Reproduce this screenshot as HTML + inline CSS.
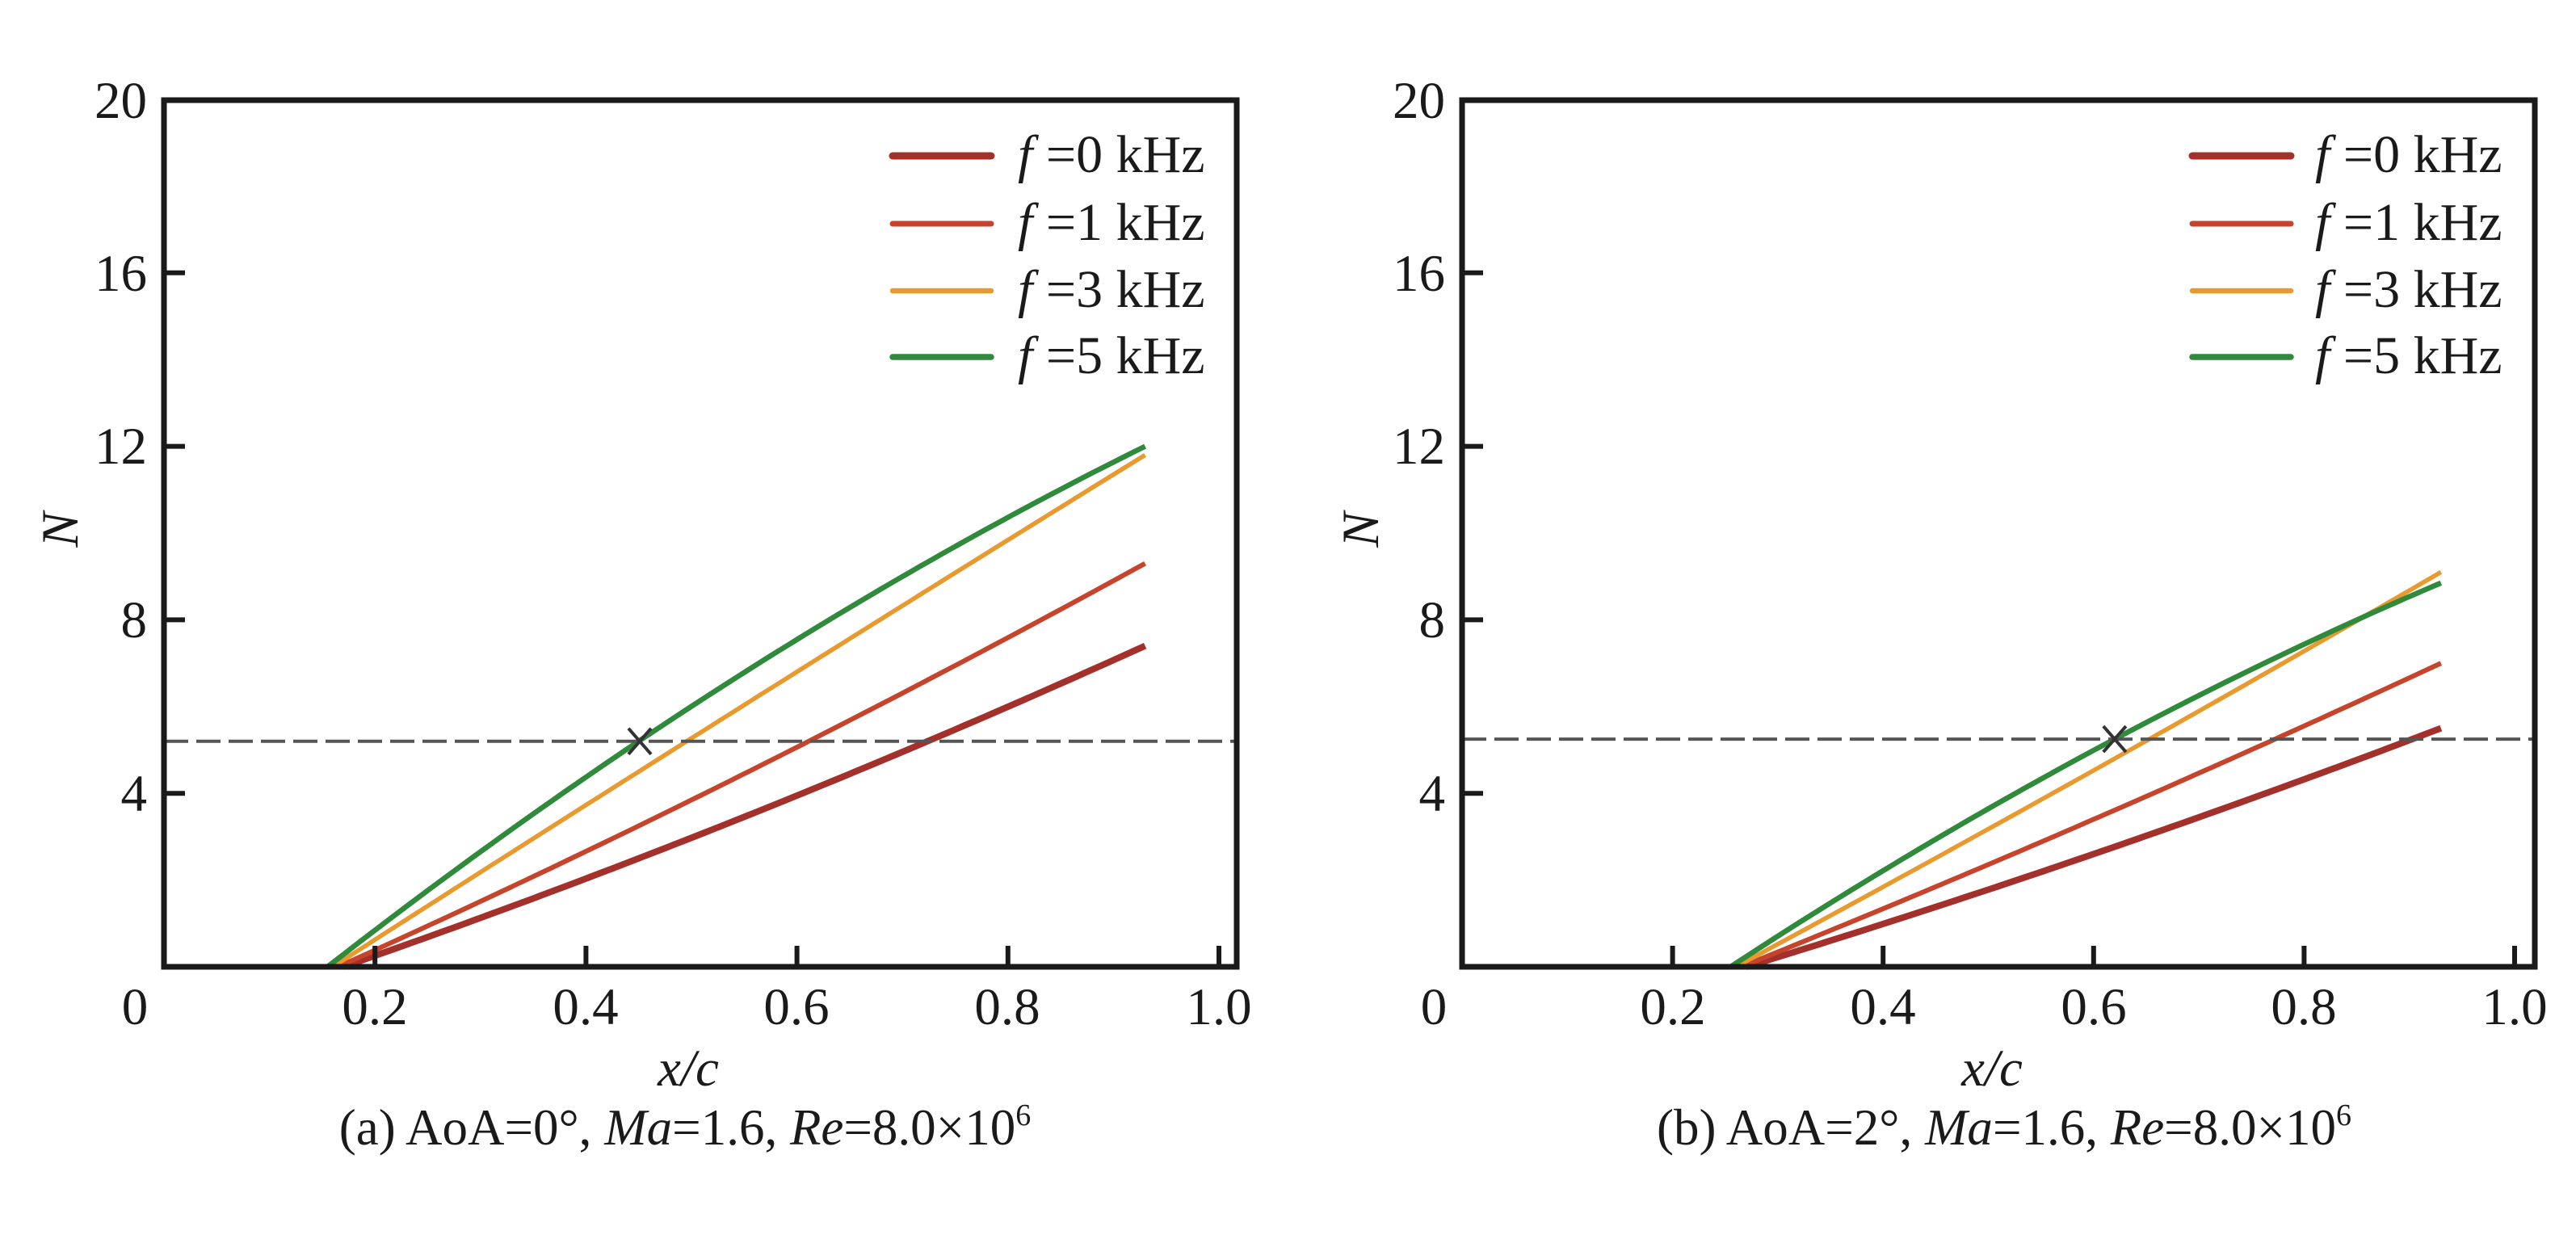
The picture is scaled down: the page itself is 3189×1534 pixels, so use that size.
<!DOCTYPE html>
<html><head><meta charset="utf-8"><style>
html,body{margin:0;padding:0;background:#fff;}
svg{display:block;}
text{font-family:"Liberation Serif",serif;fill:#1a1a1a;}
</style></head><body>
<svg id="s" width="3189" height="1534" viewBox="0 0 3189 1534" xmlns="http://www.w3.org/2000/svg">
<rect width="3189" height="1534" fill="#fff"/>
<g id="g"></g>
<g font-size="65">
<text x="182" y="146" text-anchor="end">20</text>
<text x="182" y="360" text-anchor="end">16</text>
<text x="182" y="574" text-anchor="end">12</text>
<text x="182" y="789" text-anchor="end">8</text>
<text x="182" y="1004" text-anchor="end">4</text>
<text x="167" y="1268" text-anchor="middle">0</text>
<text x="464" y="1268" text-anchor="middle">0.2</text>
<text x="725" y="1268" text-anchor="middle">0.4</text>
<text x="986" y="1268" text-anchor="middle">0.6</text>
<text x="1247" y="1268" text-anchor="middle">0.8</text>
<text x="1509" y="1268" text-anchor="middle">1.0</text>
<text x="852" y="1344" text-anchor="middle" font-style="italic">x/c</text>
<text transform="translate(96,656) rotate(-90)" text-anchor="middle" font-style="italic">N</text>
<text x="848" y="1417" text-anchor="middle" font-size="63">(a) AoA=0°, <tspan font-style="italic">Ma</tspan>=1.6, <tspan font-style="italic">Re</tspan>=8.0×10<tspan font-size="38" dy="-24">6</tspan></text>
</g>
<g font-size="66">
<text x="1260" y="213"><tspan font-style="italic">f</tspan> =0 kHz</text>
<text x="1260" y="297"><tspan font-style="italic">f</tspan> =1 kHz</text>
<text x="1260" y="380"><tspan font-style="italic">f</tspan> =3 kHz</text>
<text x="1260" y="462"><tspan font-style="italic">f</tspan> =5 kHz</text>
</g>
<g font-size="65">
<text x="1789" y="146" text-anchor="end">20</text>
<text x="1789" y="360" text-anchor="end">16</text>
<text x="1789" y="574" text-anchor="end">12</text>
<text x="1789" y="789" text-anchor="end">8</text>
<text x="1789" y="1004" text-anchor="end">4</text>
<text x="1775" y="1268" text-anchor="middle">0</text>
<text x="2071" y="1268" text-anchor="middle">0.2</text>
<text x="2331" y="1268" text-anchor="middle">0.4</text>
<text x="2592" y="1268" text-anchor="middle">0.6</text>
<text x="2852" y="1268" text-anchor="middle">0.8</text>
<text x="3113" y="1268" text-anchor="middle">1.0</text>
<text x="2466" y="1344" text-anchor="middle" font-style="italic">x/c</text>
<text transform="translate(1706,656) rotate(-90)" text-anchor="middle" font-style="italic">N</text>
<text x="2481" y="1417" text-anchor="middle" font-size="63">(b) AoA=2°, <tspan font-style="italic">Ma</tspan>=1.6, <tspan font-style="italic">Re</tspan>=8.0×10<tspan font-size="38" dy="-24">6</tspan></text>
</g>
<g font-size="66">
<text x="2866" y="213"><tspan font-style="italic">f</tspan> =0 kHz</text>
<text x="2866" y="297"><tspan font-style="italic">f</tspan> =1 kHz</text>
<text x="2866" y="380"><tspan font-style="italic">f</tspan> =3 kHz</text>
<text x="2866" y="462"><tspan font-style="italic">f</tspan> =5 kHz</text>
</g>
</svg>
<script>
var g=document.getElementById('g'),NS='http://www.w3.org/2000/svg';
function el(t,a){var e=document.createElementNS(NS,t);for(var k in a)e.setAttribute(k,a[k]);g.appendChild(e);return e;}
var C=['#a3302a','#c6442c','#e89a2e','#2f8a3c'],W=[8,6,5.5,6.5];
function panel(x0,sx,x1,right,series,dashN,mark,lx){
  var Y=function(n){return 1197-53.7*n;};var X=function(v){return x0+v*sx;};
  series.forEach(function(s,i){
    var p=s,pts=[];
    for(var k=0;k<=80;k++){var v=p[0][0]+(p[2][0]-p[0][0])*k/80;
      var a=p[0],b=p[1],c=p[2];
      var n=a[1]*(v-b[0])*(v-c[0])/((a[0]-b[0])*(a[0]-c[0]))+b[1]*(v-a[0])*(v-c[0])/((b[0]-a[0])*(b[0]-c[0]))+c[1]*(v-a[0])*(v-b[0])/((c[0]-a[0])*(c[0]-b[0]));
      pts.push(X(v).toFixed(1)+','+Y(n).toFixed(1));}
    el('polyline',{points:pts.join(' '),fill:'none',stroke:C[i],'stroke-width':W[i],'stroke-linejoin':'round'});
  });
  el('line',{x1:x0,y1:Y(dashN),x2:right,y2:Y(dashN),stroke:'#555','stroke-width':4,'stroke-dasharray':'30 10'});
  var mx=X(mark),my=Y(dashN);
  el('path',{d:'M'+(mx-14)+','+(my-16)+'L'+(mx+14)+','+(my+16)+'M'+(mx+14)+','+(my-16)+'L'+(mx-14)+','+(my+16),stroke:'#333','stroke-width':4});
  el('rect',{x:x0,y:124,width:right-x0,height:1073,fill:'none',stroke:'#1a1a1a','stroke-width':7});
  for(var t=1;t<=5;t++){var xx=X(t*0.2);el('line',{x1:xx,y1:1197,x2:xx,y2:1171,stroke:'#1a1a1a','stroke-width':6});}
  for(var t=1;t<=4;t++){var yy=Y(t*4);el('line',{x1:x0,y1:yy,x2:x0+26,y2:yy,stroke:'#1a1a1a','stroke-width':6});}
  [193,277,360,442].forEach(function(y,i){el('line',{x1:lx,y1:y,x2:lx+122,y2:y,stroke:C[i],'stroke-width':W[i]+1,'stroke-linecap':'round'});});
}
panel(203,1306,1531,1531,[
 [[0.17,0],[0.45,2.5],[0.93,7.4]],
 [[0.165,0],[0.45,3.25],[0.93,9.3]],
 [[0.16,0],[0.45,4.5],[0.93,11.8]],
 [[0.155,0],[0.45,5.2],[0.93,12.0]]],5.2,0.451,1105);
panel(1810,1303,3138,3138,[
 [[0.27,0],[0.6,2.6],[0.93,5.5]],
 [[0.265,0],[0.6,3.4],[0.93,7.0]],
 [[0.26,0],[0.62,4.8],[0.93,9.1]],
 [[0.255,0],[0.62,5.25],[0.93,8.85]]],5.25,0.62,2714);
</script>
</body></html>
